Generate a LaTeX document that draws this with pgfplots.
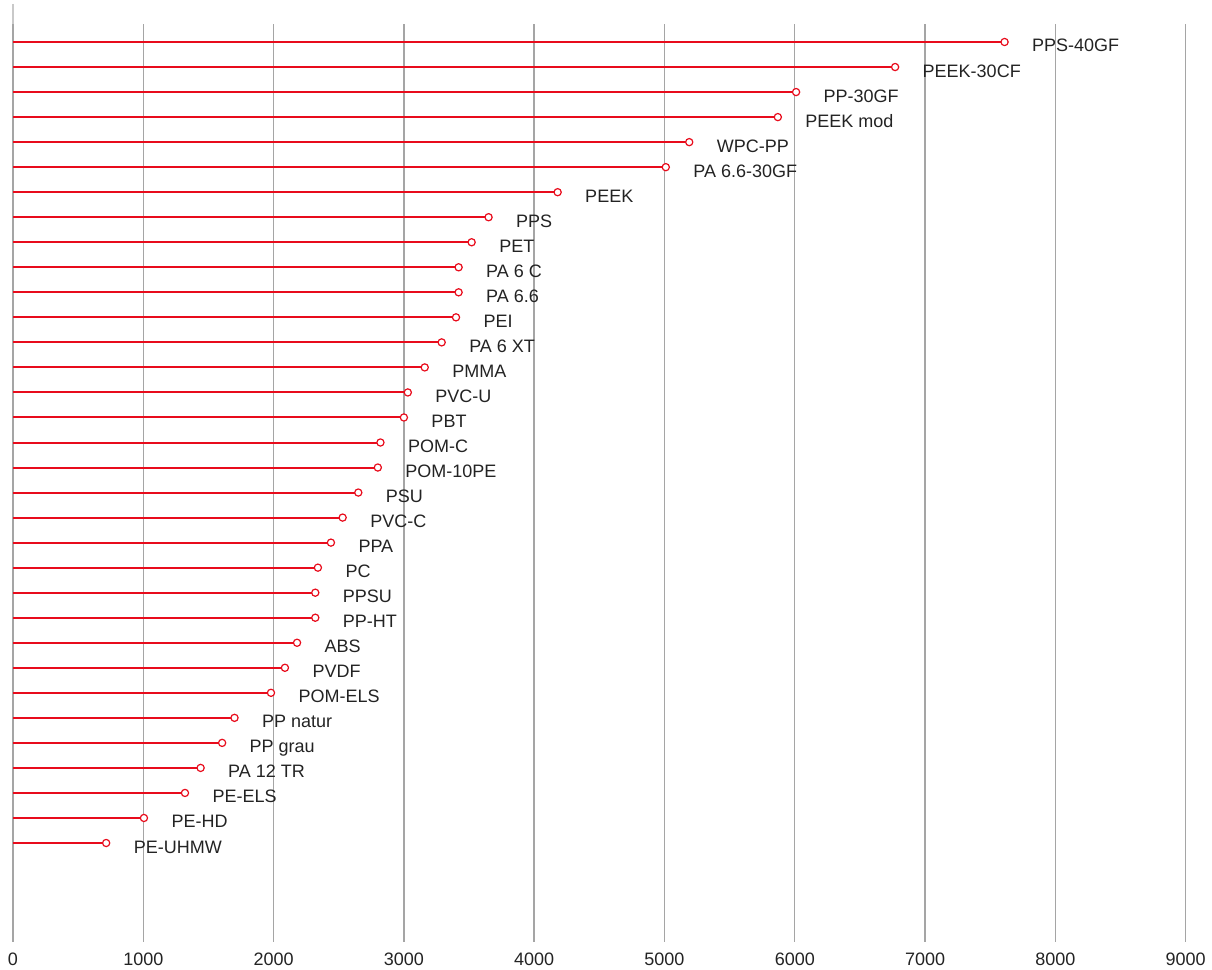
\documentclass[border=0pt]{standalone}
\usepackage{pgfplots}
\usepackage{pgfplotstable}
\pgfplotsset{compat=1.18}
\usepackage{fontspec}
\setmainfont{Liberation Sans}
\definecolor{combred}{RGB}{232,12,28}
\definecolor{gridgray}{RGB}{165,165,165}
\definecolor{txt}{RGB}{35,35,35}
\pgfplotstableread[col sep=comma]{
x,y,label
7610,1,PPS-40GF
6770,2,PEEK-30CF
6010,3,PP-30GF
5870,4,PEEK mod
5190,5,WPC-PP
5010,6,PA 6.6-30GF
4180,7,PEEK
3650,8,PPS
3520,9,PET
3420,10,PA 6 C
3420,11,PA 6.6
3400,12,PEI
3290,13,PA 6 XT
3160,14,PMMA
3030,15,PVC-U
3000,16,PBT
2820,17,POM-C
2800,18,POM-10PE
2650,19,PSU
2530,20,PVC-C
2440,21,PPA
2340,22,PC
2320,23,PPSU
2320,24,PP-HT
2180,25,ABS
2087,26,PVDF
1980,27,POM-ELS
1700,28,PP natur
1605,29,PP grau
1440,30,PA 12 TR
1320,31,PE-ELS
1005,32,PE-HD
715,33,PE-UHMW
}\datatable
\begin{document}
\begin{tikzpicture}
\useasboundingbox (-6.5pt,-14pt) rectangle (599.5pt,471pt);
\begin{axis}[
  at={(0,0)}, anchor=south west,
  scale only axis,
  width=586.35pt, height=459pt,
  xmin=0, xmax=9000,
  ymin=0.281, ymax=36.955,
  y dir=reverse,
  clip=false,
  axis line style={draw=none},
  major tick length=0pt,
  xtick={0,1000,...,9000},
  ytick=\empty,
  xmajorgrids,
  grid style={line width=0.7pt, color=gridgray},
  /pgf/number format/1000 sep={},
  /pgf/number format/assume math mode=true,
  xticklabel style={anchor=center, yshift=-8.5pt, font=\fontsize{9}{10}\selectfont, text=txt, text height=6.4pt, text depth=0pt},
]
\draw[gridgray!60, line width=0.7pt] (axis cs:0,-0.52) -- (axis cs:0,0.281);
\addplot[
  xcomb, combred, line width=1pt,
  mark=*, mark size=1.8pt,
  mark options={solid, fill=white, draw=combred, line width=0.6pt},
  nodes near coords,
  point meta=explicit symbolic,
  every node near coord/.append style={anchor=west, inner sep=0pt, xshift=13.5pt, yshift=-1.8pt, text=txt, font=\fontsize{9}{10}\selectfont, text height=6.4pt, text depth=0pt},
] table[x=x, y=y, meta=label] {\datatable};
\end{axis}
\end{tikzpicture}
\end{document}
